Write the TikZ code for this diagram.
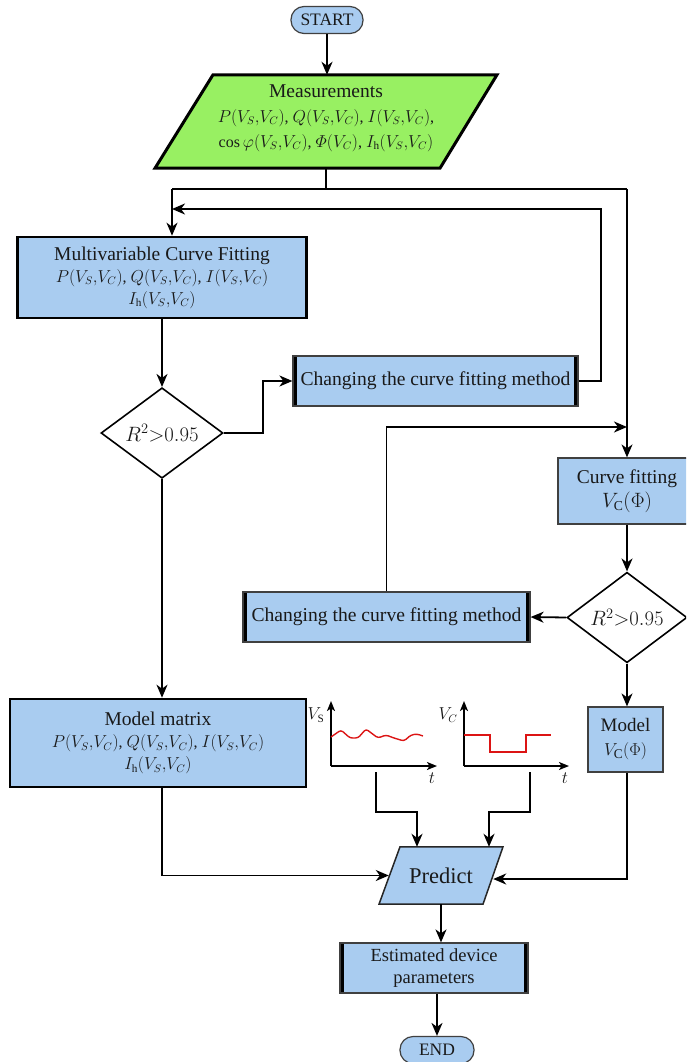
\documentclass[tikz,border=0pt]{standalone}
\usepackage{fontspec}
\setmainfont{Liberation Serif}
\usetikzlibrary{arrows.meta,shapes.geometric,backgrounds,calc}
\definecolor{boxblue}{RGB}{169,204,240}
\definecolor{measgreen}{RGB}{152,240,98}
\definecolor{txtdark}{RGB}{25,25,25}
\definecolor{curvered}{RGB}{220,20,20}
\newcommand\ttlfont{\fontsize{19.5}{22}\selectfont}
\tikzset{
  arr/.style={line width=1.8pt,-{Stealth[length=13pt,width=11pt,inset=4pt]}},
  conn/.style={line width=1.8pt},
  axisarr/.style={line width=1.6pt,-{Stealth[length=10pt,width=8pt,inset=2.5pt]}},
  redcurve/.style={line width=1.4pt,draw=curvered,line join=round},
  bluebox/.style={rectangle,fill=boxblue,draw=black!75,line width=1.2pt,align=center,inner sep=2pt,text=txtdark},
  barbox/.style={bluebox,path picture={
      \fill[black] (path picture bounding box.north west) rectangle ([xshift=4pt]path picture bounding box.south west);
      \fill[black] ([xshift=-4pt]path picture bounding box.north east) rectangle (path picture bounding box.south east);}},
  thickbox/.style={bluebox,draw=black,line width=2.6pt},
  decision/.style={diamond,draw=black,line width=1.6pt,fill=white,minimum width=122pt,minimum height=81pt,inner sep=0pt,text=txtdark,font=\fontsize{20}{24}\selectfont},
  terminal/.style={rectangle,rounded corners=13pt,fill=boxblue,draw=black!75,line width=1.2pt,minimum width=72pt,minimum height=27pt,inner sep=0pt,text=txtdark,font=\fontsize{17.5}{21}\selectfont},
  plain/.style={align=center,inner sep=0pt,text=txtdark},
  plotlab/.style={inner sep=0pt,font=\fontsize{16}{18}\selectfont,text=txtdark}
}
\begin{document}
\begin{tikzpicture}[x=1pt,y=-1pt,font=\fontsize{16}{22}\selectfont]
\useasboundingbox (0,0) rectangle (686,1062);
\clip (0,0) rectangle (686,1062);

% ---------- nodes ----------
\node[terminal] (start) at (327,20) {START};
\node[plain,minimum width=230pt,minimum height=93pt,font=\fontsize{16}{25}\selectfont] (meas) at (326,118)
  {{\ttlfont Measurements}\\ $P(V_S{,}V_C)$, $Q(V_S{,}V_C)$, $I(V_S{,}V_C)$,\\ $\cos\varphi(V_S{,}V_C)$, $\mathnormal{\Phi}(V_C)$, $I_\mathrm{h}(V_S{,}V_C)$};
\begin{scope}[on background layer]
  \draw[fill=measgreen,line width=3pt,line join=miter]
    ([xshift=-113pt,yshift=-3.5pt]meas.north) -- ([xshift=171pt,yshift=-3.5pt]meas.north) --
    ([xshift=114pt,yshift=-3.5pt]meas.south) -- ([xshift=-171pt,yshift=-3.5pt]meas.south) -- cycle;
\end{scope}

\node[thickbox,minimum width=289pt,minimum height=81pt] (mvc) at (162,277.5)
  {{\ttlfont Multivariable Curve Fitting}\\ $P(V_S{,}V_C)$, $Q(V_S{,}V_C)$, $I(V_S{,}V_C)$\\ $I_\mathrm{h}(V_S{,}V_C)$};
\node[decision] (d1) at (162,433) {$R^2{>}0.95$};
\node[barbox,minimum width=285pt,minimum height=50pt,font=\fontsize{19.6}{24}\selectfont] (ch1) at (435.5,381) {Changing the curve fitting method};

\node[bluebox,minimum width=138pt,minimum height=66pt,font=\fontsize{19.5}{24}\selectfont] (cf) at (627,491) {Curve fitting\\ $V_\mathrm{C}(\Phi)$};
\node[decision,minimum width=120pt] (d2) at (627,617.5) {$R^2{>}0.95$};
\node[barbox,minimum width=287pt,minimum height=50pt,font=\fontsize{19.6}{24}\selectfont] (ch2) at (386.5,617) {Changing the curve fitting method};

\node[thickbox,minimum width=296pt,minimum height=88pt] (mm) at (158,743)
  {{\ttlfont Model matrix}\\ $P(V_S{,}V_C)$, $Q(V_S{,}V_C)$, $I(V_S{,}V_C)$\\ $I_\mathrm{h}(V_S{,}V_C)$};
\node[bluebox,minimum width=75pt,minimum height=65pt,font=\fontsize{19}{24}\selectfont] (model) at (625.5,739.5) {Model\\ $V_\mathrm{C}(\Phi)$};

\node[plain,minimum width=104pt,minimum height=57pt,font=\fontsize{22.5}{26}\selectfont] (pred) at (441,875.5) {Predict};
\begin{scope}[on background layer]
  \draw[fill=boxblue,draw=black!85,line width=1.5pt,line join=miter]
    ([xshift=-41pt]pred.north) -- ([xshift=62pt]pred.north) --
    ([xshift=42pt]pred.south) -- ([xshift=-62pt]pred.south) -- cycle;
\end{scope}

\node[barbox,minimum width=188pt,minimum height=50pt,font=\fontsize{18.5}{22}\selectfont] (est) at (434,968) {Estimated device\\ parameters};
\node[terminal,minimum width=74pt] (endn) at (437,1050) {END};

% ---------- small plots ----------
\coordinate (vsorig) at (331,766);
\coordinate (vcorig) at (464,766);
\draw[axisarr] (vsorig) -- (331,701);
\draw[axisarr] (vsorig) -- (437,766);
\draw[axisarr] (vcorig) -- (464,701);
\draw[axisarr] (vcorig) -- (569,766);
\node[plotlab] (vslab) at (316,715) {$V_\mathrm{S}$};
\node[plotlab] (vst) at (432,778) {$t$};
\node[plotlab] (vclab) at (448,715) {$V_C$};
\node[plotlab] (vct) at (565,778) {$t$};
\draw[redcurve,rounded corners=2.5pt] (331,737) -- (341,730) -- (350,738) -- (358,738) -- (366,729)
  -- (378,738) -- (386,735) -- (394,738) -- (404,741) -- (411,735) -- (417,734) -- (423,736);
\draw[redcurve,line join=miter] (464,735) -- (490,735) -- (490,752) -- (526,752) -- (526,735) -- (551,735);
\coordinate (vsout) at (376,772);
\coordinate (vcout) at (530,772);

% ---------- connectors ----------
\coordinate (split) at (326,189);
\coordinate (splitL) at (172,189);
\coordinate (splitR) at (627,189);
\coordinate (fb1) at (172,209);
\draw[arr] (start) -- ([yshift=-3.5pt]start.south |- meas.north);
\draw[conn] ([yshift=-3.5pt]meas.south) -- (split);
\draw[conn] (splitL) -- (splitR);
\draw[arr] (splitL) -- (splitL |- mvc.north);
\draw[arr] (splitR) -- (cf.north);
\draw[arr] (ch1.east) -- ++(22,0) |- (fb1);
\draw[arr] (mvc.south -| d1.north) -- (d1.north);
\draw[arr] (d1.east) -- ++(39,0) |- (ch1.west);
\draw[arr] (d1.south) -- (d1.south |- mm.north);
\draw[arr] (ch2.north) |- (splitR |- 0,427);
\draw[arr] (cf.south) -- (d2.north);
\draw[arr] (d2.west) -- (ch2.east);
\draw[arr] (d2.south) -- (d2.south |- model.north);
\draw[arr] (d1.south |- mm.south) |- (pred.west);
\draw[arr] (d2.south |- model.south) |- ([yshift=-3.5pt]pred.east);
\draw[arr] (vsout) -- ++(0,40) -| ([xshift=-24pt]pred.north);
\draw[arr] (vcout) -- ++(0,40) -| ([xshift=48pt]pred.north);
\draw[arr] (pred.south) -- (pred.south |- est.north);
\draw[arr] (endn.north |- est.south) -- (endn.north);
\end{tikzpicture}
\end{document}
